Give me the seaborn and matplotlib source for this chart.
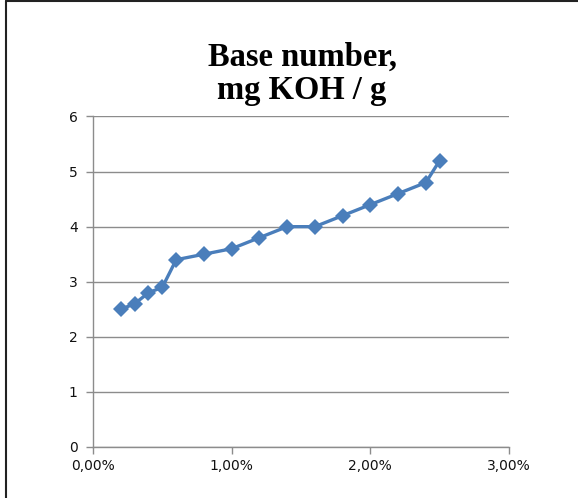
import numpy as np
import pandas as pd
import matplotlib
matplotlib.use("Agg")
import matplotlib.pyplot as plt
from matplotlib.lines import Line2D
from matplotlib.ticker import FuncFormatter
import seaborn as sns

# ── 데이터 ──────────────────────────────────────────────
content_pct = [0.2, 0.3, 0.4, 0.5, 0.6, 0.8, 1.0, 1.2, 1.4, 1.6, 1.8, 2.0, 2.2, 2.4, 2.5]
base_number = [2.5, 2.6, 2.8, 2.9, 3.4, 3.5, 3.6, 3.8, 4.0, 4.0, 4.2, 4.4, 4.6, 4.8, 5.2]
x_ticks = [0, 1, 2, 3]
y_ticks = [0, 1, 2, 3, 4, 5, 6]
title = "Base number,\nmg KOH / g"

df = pd.DataFrame({"x": content_pct, "y": base_number})

sns.set_style("white")
plt.rcParams["font.family"] = ["DejaVu Sans"]

fig = plt.figure(figsize=(5.78, 4.98), dpi=100)
ax = fig.add_axes([93 / 578, 1 - 447 / 498, (509 - 93) / 578, (447 - 116.5) / 498])

sns.lineplot(data=df, x="x", y="y", ax=ax, color="#4a7ebb", linewidth=2.4,
             marker="D", markersize=8.5, markeredgewidth=0, sort=False)

ax.set_xlim(0, 3)
ax.set_ylim(0, 6)
ax.set_xticks(x_ticks)
ax.set_yticks(y_ticks)
ax.xaxis.set_major_formatter(FuncFormatter(lambda v, p: f"{v:.2f}%".replace(".", ",")))
ax.set_xlabel("")
ax.set_ylabel("")

ax.yaxis.grid(True, color="#8c8c8c", linewidth=1.0)
ax.xaxis.grid(False)
for s in ["top", "right"]:
    ax.spines[s].set_visible(False)
for s in ["left", "bottom"]:
    ax.spines[s].set_color("#8c8c8c")
    ax.spines[s].set_linewidth(1.0)
ax.tick_params(axis="both", length=5, width=1.0, color="#8c8c8c",
               labelsize=10, labelcolor="#111111", direction="out",
               bottom=True, left=True)
ax.tick_params(axis="y", pad=6)
ax.tick_params(axis="x", pad=4)
ax.set_axisbelow(True)

fig.text(302 / 578, 1 - 74 / 498, title, ha="center", va="center",
         fontsize=23.5, fontweight="bold", family="Liberation Serif",
         color="black", linespacing=1.12)

# chart frame (top and left edges)
fig.add_artist(Line2D([6 / 578, 6 / 578], [0, 1 - 1.5 / 498], transform=fig.transFigure,
                      color="#222222", linewidth=1.5))
fig.add_artist(Line2D([6 / 578, 1], [1 - 1.5 / 498, 1 - 1.5 / 498], transform=fig.transFigure,
                      color="#222222", linewidth=1.5))

fig.savefig("out.png", dpi=100)
